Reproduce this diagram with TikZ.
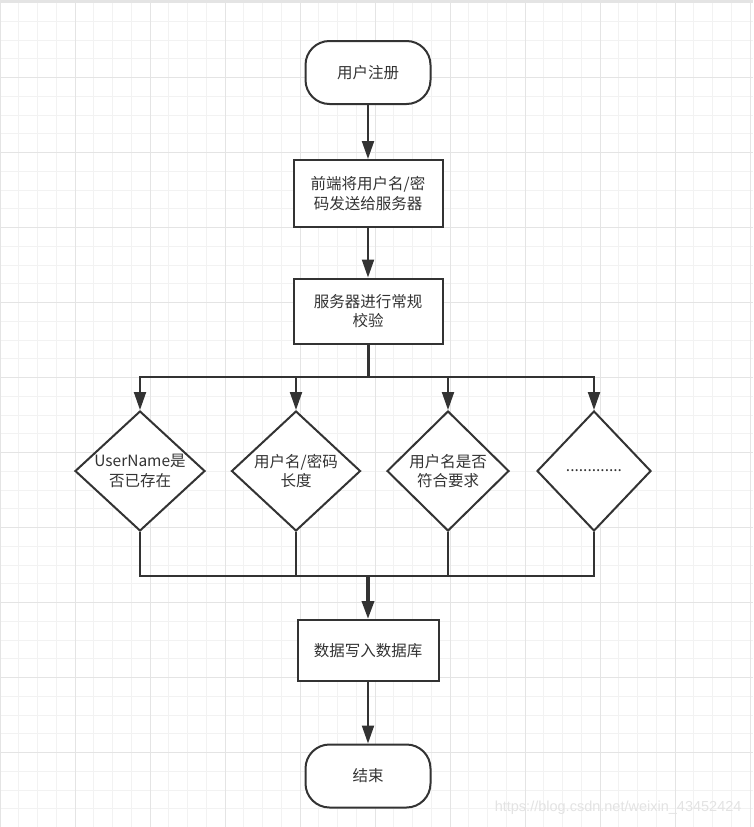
\documentclass[tikz,border=0pt]{standalone}
\usepackage{fontspec}
\setmainfont{Noto Sans CJK SC}
\newfontfamily\wmfont{Liberation Sans}
\usetikzlibrary{shapes.geometric,arrows.meta,positioning}
\definecolor{ink}{HTML}{333333}
\definecolor{gridminor}{HTML}{F2F2F2}
\definecolor{gridmajor}{HTML}{E4E4E4}
\newcommand\flowfont{\fontsize{15.5}{19.5}\selectfont}
\tikzset{
  terminal/.style={draw=ink, line width=2pt, rounded corners=24pt, fill=white,
    text=ink, font=\flowfont, minimum width=125pt, minimum height=63pt},
  process/.style={draw=ink, line width=2pt, fill=white, text=ink, font=\flowfont,
    align=center, inner sep=0pt},
  decision/.style={diamond, draw=ink, line width=2pt, fill=white, inner sep=0pt,
    minimum height=120pt},
  inside/.style={text=ink, font=\flowfont, align=center},
  link/.style={draw=ink, line width=2pt},
  flow/.style={link, -{Triangle[length=18pt,width=12pt]}},
}
\begin{document}
\begin{tikzpicture}[x=1pt,y=-1pt]
    \useasboundingbox (0,0) rectangle (753,827);
    \fill[white] (0,0) rectangle (753,827);
    % grid paper
    \foreach \i in {0,...,40} {\draw[gridminor, line width=0.8pt] (\i*18.75,0) -- (\i*18.75,827);}
    \foreach \j in {0,...,44} {\draw[gridminor, line width=0.8pt] (0,2.5+\j*18.75) -- (753,2.5+\j*18.75);}
    \foreach \i in {0,4,...,40} {\draw[gridmajor, line width=0.8pt] (\i*18.75,0) -- (\i*18.75,827);}
    \foreach \j in {0,4,...,44} {\draw[gridmajor, line width=0.8pt] (0,2.5+\j*18.75) -- (753,2.5+\j*18.75);}
    \draw[gridmajor, line width=2pt] (0,1) -- (753,1);

    % main column
    \node[terminal] (start) at (368,72.5) {用户注册};
    \node[process, minimum width=149pt, minimum height=67pt] (send) at (368,193.5)
        {前端将用户名/密\\码发送给服务器};
    \node[process, minimum width=149pt, minimum height=65pt] (check) at (368,311)
        {服务器进行常规\\校验};

    % checks
    \node[decision, minimum width=130pt, label={[inside]center:UserName是\\否已存在}] (d1) at (140,471) {};
    \node[decision, minimum width=129pt, label={[inside]center:用户名/密码\\长度}] (d2) at (296,471) {};
    \node[decision, minimum width=122pt, label={[inside]center:用户名是否\\符合要求}] (d3) at (448,471) {};
    \node[decision, minimum width=114pt, label={[inside]center:.............}] (d4) at (594,471) {};

    \node[process, minimum width=141pt, minimum height=61pt] (write) at (368,650.5) {数据写入数据库};
    \node[terminal] (end) at (368,776) {结束};

    \coordinate (split) at (368,377);
    \coordinate (merge) at (368,576);

    \draw[flow] (start) -- (send);
    \draw[flow] (send) -- (check);
    \draw[link, line width=3pt] (check.south) -- (split);
    \foreach \d in {d1,d2,d3,d4} {\draw[flow] (split) -| (\d.north);}
    \foreach \d in {d1,d2,d3,d4} {\draw[link] (\d.south) |- (merge);}
    \draw[flow, line width=3.5pt] (merge) -- (write);
    \draw[flow] (write) -- (end);

    \node[font=\wmfont\fontsize{14.5}{16}\selectfont, text=black!11, anchor=east] (mark) at (745,808)
        {https://blog.csdn.net/weixin\_43452424};
\end{tikzpicture}
\end{document}
